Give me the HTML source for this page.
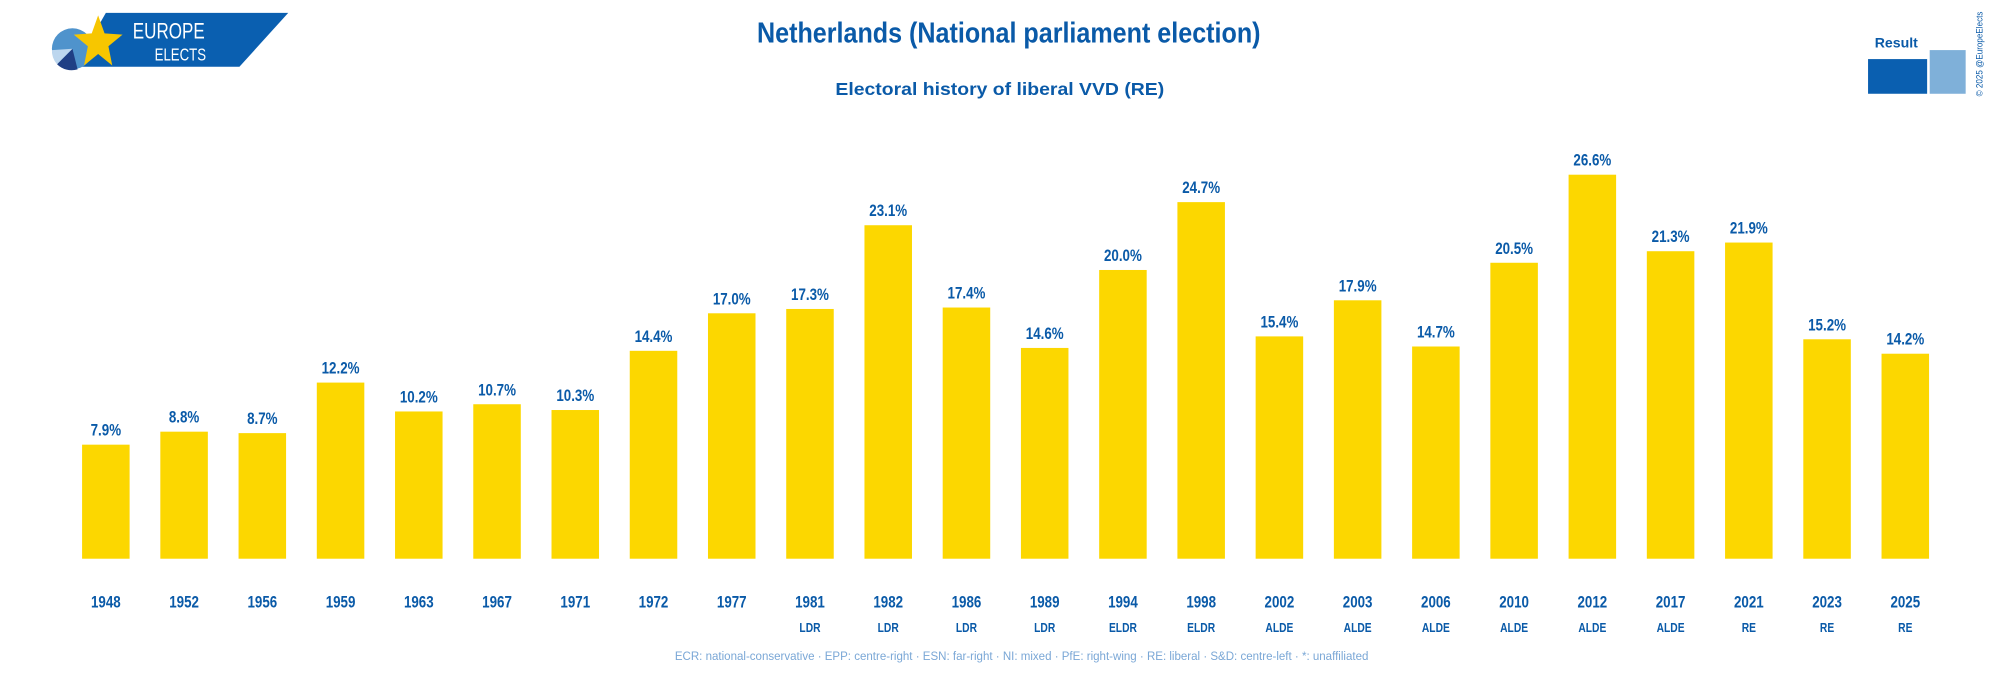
<!DOCTYPE html>
<html><head><meta charset="utf-8"><style>
html,body{margin:0;padding:0;background:#fff;}
svg{display:block;font-family:"Liberation Sans Narrow","Liberation Sans",sans-serif;}
</style></head><body>
<svg width="2015" height="700" viewBox="0 0 1568 545">
<g>
<polygon points="82,10 224,10 186,52 58,52" fill="#0a5fb0"/>
<circle cx="56" cy="38" r="16" fill="#4f93cc"/>
<path d="M56,38 L60,54 A16,16 0 0 1 44,50 Z" fill="#1f3f85"/>
<path d="M56,38 L44,50 A16,16 0 0 1 40,39 Z" fill="#bcd6ee"/>
<polygon points="76,12 81,26 95,27 84,36 87,51 76,42 65,51 68,36 57,27 71,26" fill="#f7c600"/>
<text x="103" y="30" fill="#fff" font-size="17" textLength="56" lengthAdjust="spacingAndGlyphs">EUROPE</text>
<text x="120" y="47" fill="#fff" font-size="14" textLength="40" lengthAdjust="spacingAndGlyphs">ELECTS</text>
</g>
<text x="785" y="33" text-anchor="middle" font-size="22" font-weight="bold" fill="#0a5aa8" textLength="392" lengthAdjust="spacingAndGlyphs">Netherlands (National parliament election)</text>
<text x="778" y="74" text-anchor="middle" font-size="14" font-weight="bold" fill="#0a5aa8" textLength="256" lengthAdjust="spacingAndGlyphs">Electoral history of liberal VVD (RE)</text>
<g>
<text x="1476" y="37" text-anchor="middle" font-size="11" font-weight="bold" fill="#0a5aa8">Result</text>
<rect x="1502" y="39" width="28" height="34" fill="#7fb0d9"/>
<rect x="1454" y="46" width="46" height="27" fill="#0a5fb0"/>
</g>
<text transform="translate(1543,75) rotate(-90)" font-size="7" fill="#0a5aa8" textLength="66" lengthAdjust="spacingAndGlyphs">© 2025 @EuropeElects</text>
<g id="bars"></g>
<text x="795" y="514" text-anchor="middle" font-size="9.5" fill="#7aa7d6" textLength="540" lengthAdjust="spacingAndGlyphs">ECR: national-conservative · EPP: centre-right · ESN: far-right · NI: mixed · PfE: right-wing · RE: liberal · S&amp;D: centre-left · *: unaffiliated</text>
</svg>
<script>
const years=["1948","1952","1956","1959","1963","1967","1971","1972","1977","1981","1982","1986","1989","1994","1998","2002","2003","2006","2010","2012","2017","2021","2023","2025"];
const values=[7.9,8.8,8.7,12.2,10.2,10.7,10.3,14.4,17.0,17.3,23.1,17.4,14.6,20.0,24.7,15.4,17.9,14.7,20.5,26.6,21.3,21.9,15.2,14.2];
const groups=["","","","","","","","","","LDR","LDR","LDR","LDR","ELDR","ELDR","ALDE","ALDE","ALDE","ALDE","ALDE","ALDE","RE","RE","RE"];
const NS="http://www.w3.org/2000/svg";
const g=document.getElementById('bars');
const x0=82,step=(1483-82)/(years.length-1),bw=37,base=435,ppu=11.24;
const xs=i=>x0+i*step;
const ys=v=>base-v*ppu;
function mk(tag,attrs){const e=document.createElementNS(NS,tag);for(const k in attrs)e.setAttribute(k,attrs[k]);g.appendChild(e);return e;}
years.forEach((yr,i)=>{
  const cx=xs(i),v=values[i];
  const r=mk('rect',{x:cx-bw/2,y:ys(v),width:bw,height:base-ys(v),fill:'#fcd700'});
  
  
  const t=mk('text',{transform:'translate('+cx+','+(ys(v)-7)+') scale(0.8,1)','text-anchor':'middle','font-size':13,'font-weight':'bold',fill:'#0a5aa8'});
  t.textContent=v.toFixed(1)+'%';
  
  
  const y=mk('text',{transform:'translate('+cx+',473) scale(0.8,1)','text-anchor':'middle','font-size':13,'font-weight':'bold',fill:'#0a5aa8'});
  y.textContent=yr;
  
  
  if(groups[i]){
    const s=mk('text',{transform:'translate('+cx+',492) scale(0.8,1)','text-anchor':'middle','font-size':10,'font-weight':'bold',fill:'#0a5aa8'});
    s.textContent=groups[i];
    
    
  }
});
</script>
</body></html>
